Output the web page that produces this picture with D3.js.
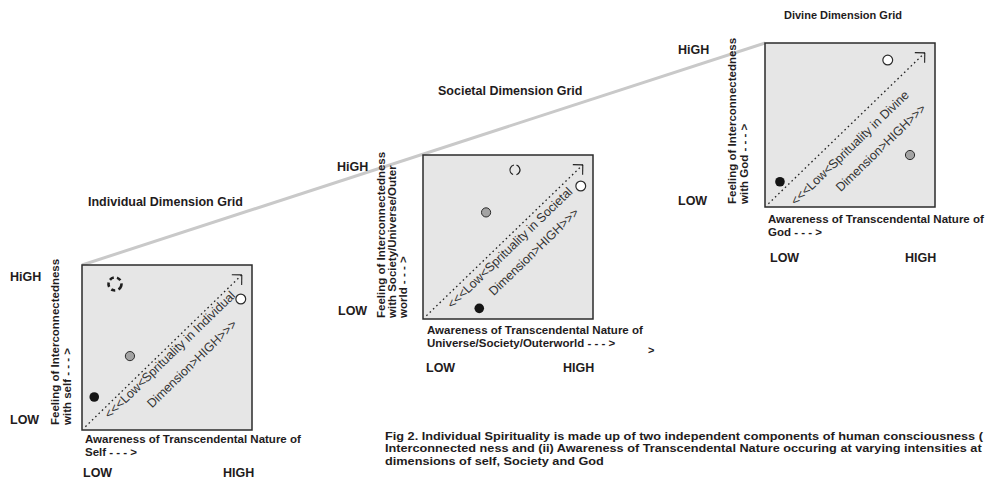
<!DOCTYPE html>
<html>
<head>
<meta charset="utf-8">
<script src="https://cdn.jsdelivr.net/npm/d3@7/dist/d3.min.js"></script>
<style>
  html, body { margin: 0; padding: 0; background: #fff; }
  svg { display: block; font-family: Arial, "Liberation Sans", Helvetica, sans-serif; }
</style>
</head>
<body>
<svg id="chart" width="989" height="480"></svg>
<script>
// ---------------- DATA ----------------
const gridTitles = ["Individual Dimension Grid", "Societal Dimension Grid", "Divine Dimension Grid"];
const yAxisText = [
  ["Feeling of Interconnectedness", "with self - - - >"],
  ["Feeling of Interconnectedness", "with Society/Universe/Outer", "world  - - - >"],
  ["Feeling of Interconnectedness", "with God  - - - >"]
];
const xAxisText = [
  ["Awareness of Transcendental Nature of", "Self - - - >"],
  ["Awareness of Transcendental Nature of", "Universe/Society/Outerworld  - - - >"],
  ["Awareness of Transcendental Nature of", "God - - - >"]
];
const diagonalText = [
  ["<<<Low<Sprituality in Individual", "Dimension>HIGH>>>"],
  ["<<<Low<Sprituality in Societal", "Dimension>HIGH>>>"],
  ["<<<Low<Sprituality in Divine", "Dimension>HIGH>>>"]
];
const levelHighLeft = "HiGH";
const levelHighBottom = "HIGH";
const levelLow = "LOW";
const captionLines = [
  "Fig 2. Individual Spirituality is made up of two independent components of human consciousness (",
  "Interconnected ness and (ii) Awareness of Transcendental Nature occuring at varying intensities at",
  "dimensions of self, Society and God"
];
// marker values on a 0-10 scale (x = awareness, y = interconnectedness), one entry per grid
const blackX  = [0.72, 3.31, 0.88];
const blackY  = [2.00, 0.65, 1.54];
const greyX   = [2.82, 3.71, 8.53];
const greyY   = [4.48, 6.50, 3.17];
const whiteX  = [9.34, 9.28, 7.22];
const whiteY  = [7.94, 8.11, 8.96];
const dashedX = [1.94, 5.41, null];
const dashedY = [8.85, 9.09, null];
const diagFrom = [0.2, 0.2];
const diagTo = [9.4, 9.4];

// ---------------- LAYOUT ----------------
const layout = [
  { box: [82, 265, 170, 165], title: [88, 206, 12.5], hiL: [10, 281], loL: [10, 424],
    yx: [55, 67], yStart: 425, xl: [85, 443], loB: [83, 477], hiB: [223, 477],
    diag: [[88, 90], [110, 99]], dash: { r: 6.5, sw: 2.6, da: "4.2,3.2", rot: 20 } },
  { box: [423, 155, 170, 164], title: [438, 95, 12.5], hiL: [337, 171], loL: [338, 315],
    yx: [381, 392, 403], yStart: 318, xl: [427, 334], loB: [426, 372], hiB: [563, 372],
    diag: [[87, 93], [111, 97]], dash: { r: 5, sw: 1.2, da: "12.3,3.4", rot: -72 } },
  { box: [765, 43, 170, 164], title: [784, 19, 11], hiL: [678, 54], loL: [678, 205],
    yx: [732, 744], yStart: 204, xl: [768, 223], loB: [770, 262], hiB: [905, 262],
    diag: [[85, 105], [116, 105]], dash: null }
];
const ink = "#1f1c1d";

const svg = d3.select("#chart");

// connecting grey line through the top-left corners
const lx = d3.scaleLinear().domain([0, 2]).range([layout[0].box[0], layout[2].box[0]]);
const ly = d3.scaleLinear().domain([0, 2]).range([layout[0].box[1], layout[2].box[1]]);
svg.append("line")
  .attr("x1", lx(0)).attr("y1", ly(0)).attr("x2", lx(2)).attr("y2", ly(2))
  .attr("stroke", "#c9c9c9").attr("stroke-width", 3);

gridTitles.forEach((title, i) => {
  const L = layout[i];
  const [bx, by, bw, bh] = L.box;
  const x = d3.scaleLinear().domain([0, 10]).range([bx, bx + bw]);
  const y = d3.scaleLinear().domain([0, 10]).range([by + bh, by]);
  const g = svg.append("g");

  // title
  g.append("text").attr("x", L.title[0]).attr("y", L.title[1])
    .attr("font-size", L.title[2]).attr("font-weight", "bold").attr("fill", ink).text(title);

  // box
  g.append("rect").attr("x", x(0)).attr("y", y(10))
    .attr("width", x(10) - x(0)).attr("height", y(0) - y(10))
    .attr("fill", "#e6e6e6").attr("stroke", "#2b2b2b").attr("stroke-width", 1.5);

  // diagonal dotted arrow
  const x1 = x(diagFrom[0]), y1 = y(diagFrom[1]), x2 = x(diagTo[0]), y2 = y(diagTo[1]);
  g.append("line").attr("x1", x1).attr("y1", y1).attr("x2", x2).attr("y2", y2)
    .attr("stroke", "#222").attr("stroke-width", 1.3).attr("stroke-dasharray", "1.6,3");
  const back = Math.atan2(y1 - y2, x1 - x2);
  [back + Math.PI / 4, back - Math.PI / 4].forEach(a => {
    g.append("line").attr("x1", x2).attr("y1", y2)
      .attr("x2", x2 + 10 * Math.cos(a)).attr("y2", y2 + 10 * Math.sin(a))
      .attr("stroke", "#222").attr("stroke-width", 1.1);
  });
  const angle = Math.atan2(y2 - y1, x2 - x1) * 180 / Math.PI;
  diagonalText[i].forEach((t, k) => {
    const cx = bx + L.diag[k][0], cy = by + L.diag[k][1];
    g.append("text").attr("transform", `translate(${cx},${cy}) rotate(${angle})`)
      .attr("text-anchor", "middle").attr("dominant-baseline", "central")
      .attr("font-size", 12.5).attr("fill", "#333").text(t);
  });

  // markers
  if (dashedX[i] !== null && L.dash) {
    const dcx = x(dashedX[i]), dcy = y(dashedY[i]);
    g.append("circle").attr("cx", dcx).attr("cy", dcy).attr("r", L.dash.r)
      .attr("fill", "none").attr("stroke", "#1e1e1e").attr("stroke-width", L.dash.sw)
      .attr("stroke-dasharray", L.dash.da).attr("transform", `rotate(${L.dash.rot},${dcx},${dcy})`);
  }
  g.append("circle").attr("cx", x(greyX[i])).attr("cy", y(greyY[i])).attr("r", 4.6)
    .attr("fill", "#a3a3a3").attr("stroke", "#2b2b2b").attr("stroke-width", 1);
  g.append("circle").attr("cx", x(whiteX[i])).attr("cy", y(whiteY[i])).attr("r", 4.9)
    .attr("fill", "#fff").attr("stroke", "#2b2b2b").attr("stroke-width", 1.2);
  g.append("circle").attr("cx", x(blackX[i])).attr("cy", y(blackY[i])).attr("r", 4.8)
    .attr("fill", "#151515");

  // left level labels
  g.append("text").attr("x", L.hiL[0]).attr("y", L.hiL[1]).attr("font-size", 12.5)
    .attr("font-weight", "bold").attr("fill", ink).text(levelHighLeft);
  g.append("text").attr("x", L.loL[0]).attr("y", L.loL[1]).attr("font-size", 12.5)
    .attr("font-weight", "bold").attr("fill", ink).text(levelLow);

  // vertical axis title
  yAxisText[i].forEach((t, k) => {
    g.append("text").attr("transform", `translate(${L.yx[k]},${L.yStart}) rotate(-90)`)
      .attr("dominant-baseline", "central").attr("font-size", 11.5)
      .attr("font-weight", "bold").attr("fill", ink).text(t);
  });

  // horizontal axis title
  xAxisText[i].forEach((t, k) => {
    g.append("text").attr("x", L.xl[0]).attr("y", L.xl[1] + 13 * k).attr("font-size", 11.5)
      .attr("font-weight", "bold").attr("fill", ink).text(t);
  });

  // bottom level labels
  g.append("text").attr("x", L.loB[0]).attr("y", L.loB[1]).attr("font-size", 12.5)
    .attr("font-weight", "bold").attr("fill", ink).text(levelLow);
  g.append("text").attr("x", L.hiB[0]).attr("y", L.hiB[1]).attr("font-size", 12.5)
    .attr("font-weight", "bold").attr("fill", ink).text(levelHighBottom);
});

// stray arrow glyph next to societal axis title
svg.append("text").attr("x", 648).attr("y", 354).attr("font-size", 11)
  .attr("font-weight", "bold").attr("fill", ink).text(">");

// caption
const cap = svg.append("g");
captionLines.forEach((t, k) => {
  cap.append("text").attr("x", 385).attr("y", 440 + 12.5 * k).attr("font-size", 11)
    .attr("font-weight", "bold").attr("fill", ink).text(t);
});
// fit caption width to the first line's extent
const first = cap.select("text").node();
const w = first.getComputedTextLength();
const sx = 599 / w;
cap.selectAll("text").attr("transform", `translate(385,0) scale(${sx},1) translate(-385,0)`);
</script>
</body>
</html>
